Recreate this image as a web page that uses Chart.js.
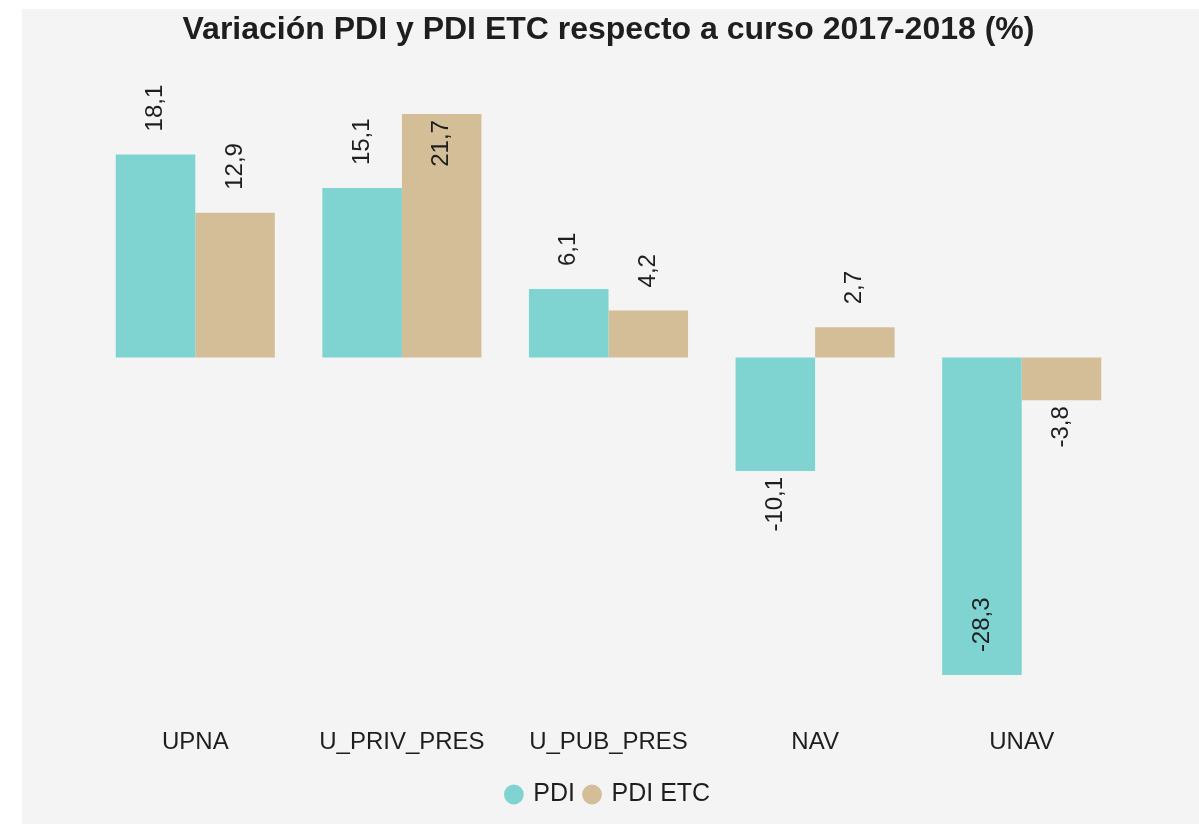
<!DOCTYPE html>
<html>
<head>
<meta charset="utf-8">
<script src="https://cdn.jsdelivr.net/npm/chart.js@4/dist/chart.umd.min.js"></script>
<style>
  html, body { margin: 0; padding: 0; background: #ffffff; }
  #panel {
    position: absolute; left: 22px; top: 9px;
    width: 1177px; height: 815px;
    background: #f4f4f4;
  }
</style>
</head>
<body>
<div id="panel"><canvas id="barChart"></canvas></div>
<script>
var categories = ['UPNA', 'U_PRIV_PRES', 'U_PUB_PRES', 'NAV', 'UNAV'];
var pdi = [18.1, 15.1, 6.1, -10.1, -28.3];
var pdiEtc = [12.9, 21.7, 4.2, 2.7, -3.8];
var seriesNames = ['PDI', 'PDI ETC'];
var yMin = -30;
var yMax = 25;

var FONT = "'Liberation Sans', Arial, sans-serif";

// rotated value labels, comma decimals like the original
var valueLabels = {
  id: 'valueLabels',
  afterDatasetsDraw: function(chart) {
    var ctx = chart.ctx;
    var area = chart.chartArea;
    ctx.save();
    ctx.font = '24px ' + FONT;
    ctx.fillStyle = '#1e1e1e';
    ctx.textAlign = 'left';
    ctx.textBaseline = 'middle';
    chart.data.datasets.forEach(function(ds, di) {
      var meta = chart.getDatasetMeta(di);
      meta.data.forEach(function(bar, i) {
        var v = ds.data[i];
        var txt = v.toFixed(1).replace('.', ',');
        var w = ctx.measureText(txt).width;
        var y0;
        if (v >= 0) {
          y0 = bar.y - 23;
          if (y0 - w < area.top) y0 = bar.y + 6 + w;
        } else {
          y0 = bar.y + 6 + w;
          if (y0 > area.bottom) y0 = bar.y - 23;
        }
        ctx.save();
        ctx.translate(bar.x, y0);
        ctx.rotate(-Math.PI / 2);
        ctx.fillText(txt, 0, 0);
        ctx.restore();
      });
    });
    ctx.restore();
  }
};

var ctxBar = document.getElementById('barChart');
new Chart(ctxBar, {
  type: 'bar',
  data: {
    labels: categories,
    datasets: [
      { label: seriesNames[0], data: pdi, backgroundColor: '#7fd3d1' },
      { label: seriesNames[1], data: pdiEtc, backgroundColor: '#d4be98' }
    ]
  },
  options: {
    responsive: true,
    maintainAspectRatio: false,
    animation: false,
    categoryPercentage: 0.77,
    barPercentage: 1.0,
    layout: { padding: { left: 70, right: 74, top: 0, bottom: 7 } },
    scales: {
      x: {
        grid: { display: false },
        border: { display: false },
        ticks: { color: '#1e1e1e', padding: 26, font: { family: FONT, size: 24 } },
        afterFit: function(scale) { scale.height -= 11; }
      },
      y: {
        display: false,
        min: yMin,
        max: yMax
      }
    },
    plugins: {
      title: {
        display: true,
        text: 'Variación PDI y PDI ETC respecto a curso 2017-2018 (%)',
        color: '#1e1e1e',
        font: { family: FONT, size: 32, weight: 'bold', lineHeight: 1 },
        padding: { top: 5, bottom: 31 }
      },
      legend: {
        position: 'bottom',
        labels: {
          usePointStyle: true,
          pointStyle: 'circle',
          boxWidth: 14,
          boxHeight: 14,
          padding: 10,
          color: '#1e1e1e',
          font: { family: FONT, size: 25 }
        }
      },
      tooltip: { enabled: false }
    }
  },
  plugins: [valueLabels]
});
</script>
</body>
</html>
